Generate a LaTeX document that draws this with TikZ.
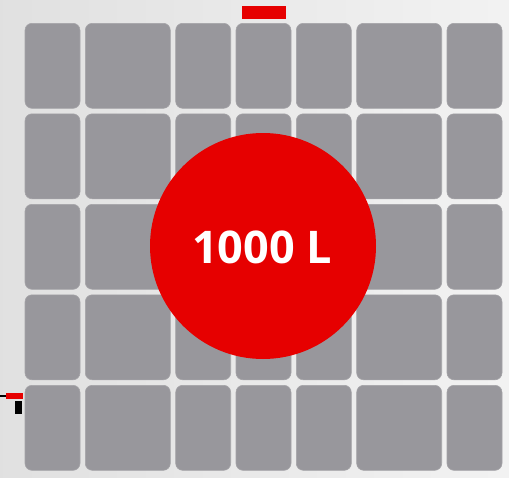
\documentclass[tikz,border=0pt]{standalone}
\usepackage{fontspec}
\newfontfamily\labelfont{Open Sans}
\definecolor{cellgray}{RGB}{152,151,156}
\definecolor{celledge}{RGB}{165,164,168}
\definecolor{tankred}{RGB}{230,0,0}
\begin{document}
\begin{tikzpicture}[x=1pt,y=-1pt,
  cell/.style={fill=cellgray,draw=celledge,line width=0.6pt,rounded corners=7pt,inner sep=0pt,outer sep=0pt},
  redbar/.style={fill=tankred,draw=none},
  blackbar/.style={fill=black,draw=none}]
\useasboundingbox (0,0) rectangle (509,477);
\shade[left color=black!12,right color=black!5] (0,0) rectangle (509,477);
% grid columns: x-left, width
\foreach \r [count=\ri] in {23.3,113.8,204.3,294.8,385.3}{
  \foreach \cx/\cw [count=\ci] in {25/55,85.3/85,175.7/55,236/55,296.3/55,356.7/85,447/55}{
    \node[cell,minimum width=\cw pt,minimum height=85pt,anchor=north west] (c\ri-\ci) at (\cx,\r) {};
  }
}
% tank circle
\node[circle,fill=tankred,minimum size=226pt,inner sep=0pt] (tank) at (263,246) {};
\node[text=white,font=\labelfont\bfseries\fontsize{45}{45}\selectfont] (label) at (262,247) {1000 L};
% top red cap
\fill[redbar] (242,6) rectangle (286,19);
% left valve
\draw[black,line width=2pt] (0,396) -- (6,396);
\fill[redbar] (6,393.3) rectangle (22.7,399);
\fill[blackbar] (15,401) rectangle (22,414.3);
\end{tikzpicture}
\end{document}
